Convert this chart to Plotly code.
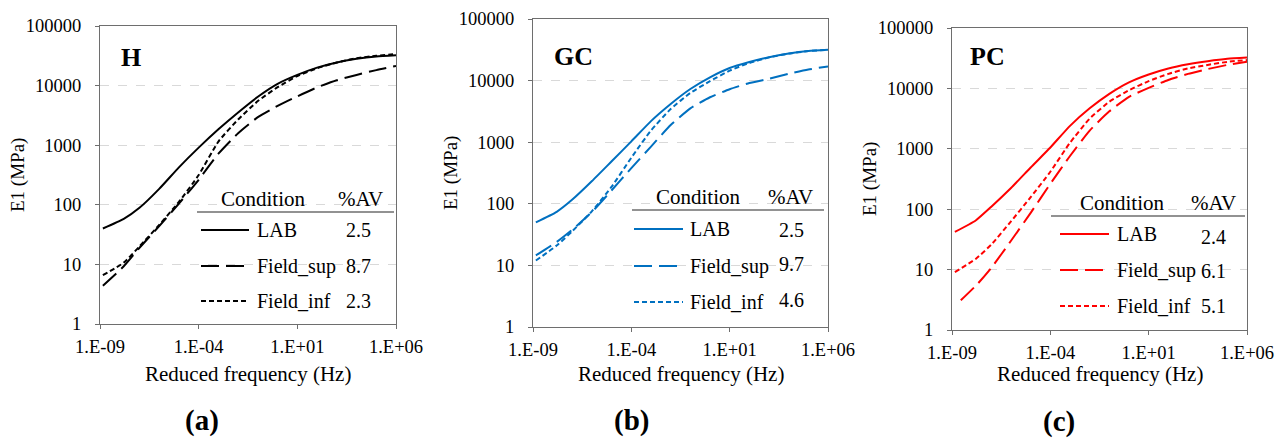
import plotly.graph_objects as go

# ---------------- data ----------------
freq = [1.4e-9, 1.6e-8, 1e-7, 1e-6, 1e-5, 1e-4, 1e-3, 1e-2, 1e-1, 1e0,
        1e1, 1e2, 1e3, 1e4, 1e5, 1e6]
freq_pc_sup = [2.8e-9, 2.0e-8, 1e-7, 1e-6, 1e-5, 1e-4, 1e-3, 1e-2, 1e-1, 1e0,
               1e1, 1e2, 1e3, 1e4, 1e5, 1e6]

H_LAB = [40, 58, 89, 185, 425, 910, 1850, 3550, 6500, 10700, 15100, 20000, 24500, 28200, 30900, 32400]
H_sup = [4.4, 9.3, 19, 44, 105, 263, 720, 1590, 2950, 4570, 6600, 9330, 12300, 15100, 18200, 21400]
H_inf = [6.6, 10.7, 20, 46, 112, 316, 1150, 2700, 5500, 9400, 14450, 19500, 24500, 28800, 31600, 33900]

GC_LAB = [50, 74, 117, 234, 490, 1030, 2200, 4170, 7300, 11300, 16000, 20000, 24000, 27500, 30200, 31600]
GC_sup = [14.5, 24, 38, 74, 166, 380, 850, 1900, 3550, 5370, 7240, 9120, 10700, 12900, 15100, 17000]
GC_inf = [12, 21, 36, 76, 190, 560, 1550, 3450, 6300, 9800, 14500, 19300, 23800, 27400, 30100, 31600]

PC_LAB = [42, 65, 110, 224, 490, 1050, 2400, 4680, 8130, 12600, 17000, 21400, 25100, 28200, 30900, 32400]
PC_sup = [3.1, 5.8, 10.7, 30, 87, 263, 760, 2000, 4170, 7240, 10200, 13800, 17400, 20900, 24500, 27500]
PC_inf = [9.1, 15, 26, 63, 158, 417, 1260, 3160, 6030, 9330, 13200, 17400, 21400, 24500, 27500, 29500]

conditions = ["LAB", "Field_sup", "Field_inf"]
AV_H = ["2.5", "8.7", "2.3"]
AV_GC = ["2.5", "9.7", "4.6"]
AV_PC = ["2.4", "6.1", "5.1"]

panel_letters = ["(a)", "(b)", "(c)"]

x_tickvals = [1e-9, 1e-4, 1e1, 1e6]
x_ticktext = ["1.E-09", "1.E-04", "1.E+01", "1.E+06"]
y_tickvals = [1, 10, 100, 1000, 10000, 100000]
y_ticktext = ["1", "10", "100", "1000", "10000", "100000"]

# ---------------- layout geometry (pixels) ----------------
W, H = 1287, 441
FONT = "Liberation Serif, Times New Roman, serif"


def px(x):
    return x / W


def py(y):
    return 1 - y / H


panels = [
    dict(name="H", color="#000000", series=[H_LAB, H_sup, H_inf], xs=[freq, freq, freq], av=AV_H,
         plot=(100, 396, 26, 324), lab=(131, 57), letter=(202, 420),
         leg=dict(cond=(263, 199), av=(360, 199), line=(197, 394, 212), rows=[230, 266, 301],
                  samp=(201, 249), txt=255, val=359, valy=[230, 266, 301])),
    dict(name="GC", color="#0070C0", series=[GC_LAB, GC_sup, GC_inf], xs=[freq, freq, freq], av=AV_GC,
         plot=(533, 828, 19, 327), lab=(573, 56), letter=(631, 420),
         leg=dict(cond=(698, 197), av=(790, 197), line=(632, 824, 210), rows=[229, 266, 302],
                  samp=(634, 683), txt=688, val=791, valy=[230, 264, 300])),
    dict(name="PC", color="#FF0000", series=[PC_LAB, PC_sup, PC_inf], xs=[freq, freq_pc_sup, freq], av=AV_PC,
         plot=(952, 1247, 28, 330), lab=(987, 56), letter=(1059, 421),
         leg=dict(cond=(1122, 203), av=(1213, 203), line=(1051, 1245, 216), rows=[234, 270, 306],
                  samp=(1060, 1109), txt=1115, val=1213, valy=[237, 271, 306])),
]

dashes = ["solid", "18px,7px", "5px,3px"]

fig = go.Figure()
annotations = []
shapes = []
layout = {}

for i, p in enumerate(panels):
    k = "" if i == 0 else str(i + 1)
    x0, x1, y0, y1 = p["plot"]
    for j, cond in enumerate(conditions):
        fig.add_trace(go.Scatter(
            x=p["xs"][j], y=p["series"][j], mode="lines", name=cond,
            line=dict(color=p["color"], width=2, dash=dashes[j], shape="spline", smoothing=0.5),
            xaxis="x" + k, yaxis="y" + k, showlegend=False))
    common = dict(showline=True, mirror=True, linecolor="#6e6e6e", linewidth=1.3,
                  ticks="outside", ticklen=4, tickcolor="#6e6e6e", automargin=False,
                  tickfont=dict(family=FONT, size=18.5, color="#000"))
    layout["xaxis" + k] = dict(type="log", range=[-9, 6], domain=[px(x0), px(x1)],
                               anchor="y" + k, tickvals=x_tickvals, ticktext=x_ticktext,
                               showgrid=False, zeroline=False, ticklabelstandoff=2, **common)
    layout["yaxis" + k] = dict(type="log", range=[0, 5], domain=[py(y1), py(y0)],
                               anchor="x" + k, tickvals=y_tickvals, ticktext=y_ticktext,
                               showgrid=True, gridcolor="#d9d9d9", griddash="dash", gridwidth=1,
                               zeroline=False, ticklabelstandoff=10, **common)
    cx = (x0 + x1) / 2
    cy = (y0 + y1) / 2
    # axis titles
    annotations.append(dict(text="Reduced frequency (Hz)", x=px(cx), y=py(374), xref="paper", yref="paper",
                            showarrow=False, xanchor="center", yanchor="middle",
                            font=dict(family=FONT, size=21, color="#000")))
    annotations.append(dict(text="E1 (MPa)", x=px(x0 - 82), y=py(cy), xref="paper", yref="paper",
                            showarrow=False, textangle=-90, xanchor="center", yanchor="middle",
                            font=dict(family=FONT, size=19, color="#000")))
    # panel label and letter
    annotations.append(dict(text="<b>%s</b>" % p["name"], x=px(p["lab"][0]), y=py(p["lab"][1]),
                            xref="paper", yref="paper", showarrow=False, xanchor="center", yanchor="middle",
                            font=dict(family=FONT, size=26, color="#000")))
    annotations.append(dict(text="<b>%s</b>" % panel_letters[i], x=px(p["letter"][0]), y=py(p["letter"][1]),
                            xref="paper", yref="paper", showarrow=False, xanchor="center", yanchor="middle",
                            font=dict(family=FONT, size=29, color="#000")))
    # legend table
    L = p["leg"]
    lf = dict(family=FONT, size=20, color="#000")
    annotations.append(dict(text="Condition", x=px(L["cond"][0]), y=py(L["cond"][1]), xref="paper", yref="paper",
                            showarrow=False, xanchor="center", yanchor="middle",
                            font=dict(family=FONT, size=21, color="#000")))
    annotations.append(dict(text="%AV", x=px(L["av"][0]), y=py(L["av"][1]), xref="paper", yref="paper",
                            showarrow=False, xanchor="center", yanchor="middle",
                            font=dict(family=FONT, size=21, color="#000")))
    shapes.append(dict(type="line", xref="paper", yref="paper", x0=px(L["line"][0]), x1=px(L["line"][1]),
                       y0=py(L["line"][2]), y1=py(L["line"][2]), line=dict(color="#6e6e6e", width=1.5)))
    for j, cond in enumerate(conditions):
        ry = L["rows"][j]
        shapes.append(dict(type="line", xref="paper", yref="paper", x0=px(L["samp"][0]), x1=px(L["samp"][1]),
                           y0=py(ry), y1=py(ry), line=dict(color=p["color"], width=2, dash=dashes[j])))
        annotations.append(dict(text=cond, x=px(L["txt"]), y=py(ry), xref="paper", yref="paper",
                                showarrow=False, xanchor="left", yanchor="middle", font=lf))
        annotations.append(dict(text=p["av"][j], x=px(L["val"]), y=py(L["valy"][j]), xref="paper", yref="paper",
                                showarrow=False, xanchor="center", yanchor="middle", font=lf))

fig.update_layout(width=W, height=H, margin=dict(l=0, r=0, t=0, b=0),
                  paper_bgcolor="white", plot_bgcolor="white",
                  annotations=annotations, shapes=shapes, **layout)

fig.write_html("out.html")
